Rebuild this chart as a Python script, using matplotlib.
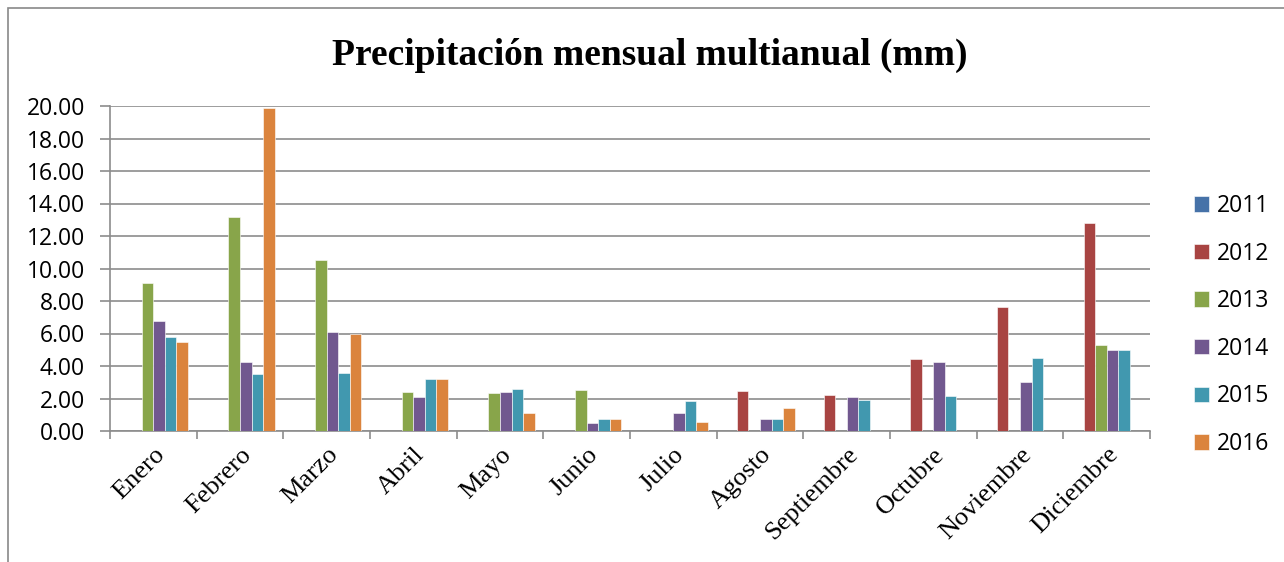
import matplotlib
matplotlib.use("Agg")
import matplotlib.pyplot as plt
from matplotlib.patches import Rectangle
import numpy as np

months = ["Enero", "Febrero", "Marzo", "Abril", "Mayo", "Junio", "Julio",
          "Agosto", "Septiembre", "Octubre", "Noviembre", "Diciembre"]
years = ["2011", "2012", "2013", "2014", "2015", "2016"]

v2011 = [0, 0, 0, 0, 0, 0, 0, 0, 0, 0, 0, 0]
v2012 = [0, 0, 0, 0, 0, 0, 0, 2.45, 2.20, 4.42, 7.65, 12.80]
v2013 = [9.10, 13.19, 10.51, 2.41, 2.33, 2.53, 0, 0, 0, 0, 0, 5.27]
v2014 = [6.79, 4.24, 6.09, 2.10, 2.37, 0.49, 1.09, 0.74, 2.12, 4.26, 3.02, 5.00]
v2015 = [5.78, 3.48, 3.56, 3.17, 2.59, 0.74, 1.83, 0.74, 1.91, 2.14, 4.51, 4.98]
v2016 = [5.49, 19.90, 5.97, 3.21, 1.13, 0.74, 0.56, 1.40, 0, 0, 0, 0]
series = [v2011, v2012, v2013, v2014, v2015, v2016]
colors = ["#4672A8", "#A84442", "#88A54A", "#71588F", "#4198AF", "#DB843D"]

fig = plt.figure(figsize=(12.84, 5.62), dpi=100)
fig.patches.append(Rectangle((8/1284, -0.1), 1.5, (562-8)/562 + 0.1,
                             transform=fig.transFigure, fill=False,
                             edgecolor="#898989", linewidth=1.2))

ax = fig.add_axes([110/1284, 1-431/562, (1150-110)/1284, (431-106)/562])
x = np.arange(len(months))
w = 1/7.5
for i, (vals, c, yr) in enumerate(zip(series, colors, years)):
    ax.bar(x + (i - 2.5) * w, vals, width=w, color=c, label=yr,
           edgecolor="white", linewidth=0.4, zorder=3)

ax.set_xlim(-0.5, len(months) - 0.5)
ax.set_ylim(0, 20)
ax.set_yticks(np.arange(0, 21, 2))
ax.set_yticklabels([f"{t:.2f}" for t in np.arange(0, 21, 2)],
                   fontsize=16.5, family="Open Sans")
ax.yaxis.grid(True, color="#8c8c8c", linewidth=1.2, zorder=0)
ax.set_axisbelow(True)
for s in ["top", "right"]:
    ax.spines[s].set_visible(False)
ax.spines["left"].set_color("#8c8c8c")
ax.spines["bottom"].set_color("#8c8c8c")
ax.spines["left"].set_linewidth(1.2)
ax.spines["bottom"].set_linewidth(1.2)
ax.tick_params(axis="y", length=7, color="#8c8c8c", width=1.2, pad=11)

ax.set_xticks(x)
ax.set_xticklabels(months, rotation=45, ha="right", rotation_mode="anchor",
                   fontsize=19, family="Liberation Serif")
ax.tick_params(axis="x", length=0, pad=9)
ax.set_xticks(np.arange(-0.5, len(months), 1), minor=True)
ax.tick_params(axis="x", which="minor", length=6, color="#8c8c8c", width=1.2)

fig.text(650/1284, 1-55/562, "Precipitación mensual multianual (mm)",
         ha="center", va="center", fontsize=27, fontweight="bold",
         family="Liberation Serif")

leg = fig.legend(loc="center left", bbox_to_anchor=(1173/1284, 1-325/562),
                 frameon=False, handlelength=0.65, handleheight=0.65,
                 handletextpad=0.35, labelspacing=1.03,
                 prop={"family": "Open Sans", "size": 16.5})

fig.savefig("out.png", dpi=100)
